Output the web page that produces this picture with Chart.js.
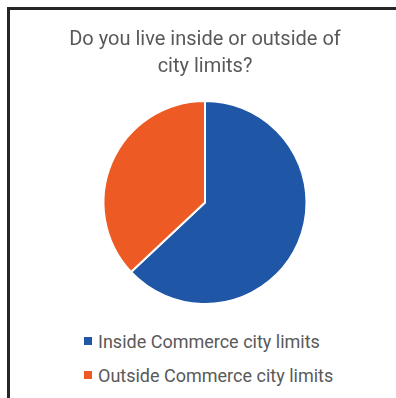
<!DOCTYPE html>
<html>
<head>
<meta charset="utf-8">
<script src="https://cdn.jsdelivr.net/npm/chart.js@4"></script>
<style>
  html, body { margin: 0; padding: 0; background: #fff; width: 396px; height: 398px; overflow: hidden; }
  .frame { position: absolute; left: 7px; top: 7px; width: 400px; height: 400px;
           border-top: 3px solid #262626; border-left: 3px solid #262626; }
  #chartBox { position: absolute; left: 10px; top: 10px; width: 390px; height: 295px; }
  #legend { position: absolute; left: 84px; top: 324px; font-family: Roboto, sans-serif;
            font-size: 18px; color: #595959; }
  .item { display: flex; align-items: center; height: 34px; }
  .box { width: 8px; height: 8px; margin-right: 6px; }
</style>
</head>
<body>
<div class="frame"></div>
<div id="chartBox"><canvas id="pie"></canvas></div>
<div id="legend"></div>
<script>
// chart data
const categories = ['Inside Commerce city limits', 'Outside Commerce city limits'];
const shares = [63, 37];
const sliceColors = ['#1F56A5', '#EE5A24'];
const titleLines = ['Do you live inside or outside of', 'city limits?'];

const ctx = document.getElementById('pie').getContext('2d');
const chart = new Chart(ctx, {
    type: 'pie',
    data: {
        labels: categories,
        datasets: [{ data: shares, backgroundColor: sliceColors, borderColor: '#fff', borderWidth: 2 }]
    },
    options: {
        responsive: true,
        maintainAspectRatio: false,
        animation: false,
        layout: { padding: 0 },
        plugins: {
            legend: { display: false },
            tooltip: { enabled: false },
            title: {
                display: true,
                text: titleLines,
                color: '#595959',
                font: { family: 'Roboto', size: 20, weight: 'normal', lineHeight: '27px' },
                padding: { top: 16, bottom: 20 }
            }
        }
    }
});

// html legend so both rows line up on the left
const legend = document.getElementById('legend');
chart.data.labels.forEach((lbl, i) => {
    const row = document.createElement('div');
    row.className = 'item';
    const box = document.createElement('span');
    box.className = 'box';
    box.style.background = sliceColors[i];
    const txt = document.createElement('span');
    txt.innerText = lbl;
    row.appendChild(box);
    row.appendChild(txt);
    legend.appendChild(row);
});
</script>
</body>
</html>
